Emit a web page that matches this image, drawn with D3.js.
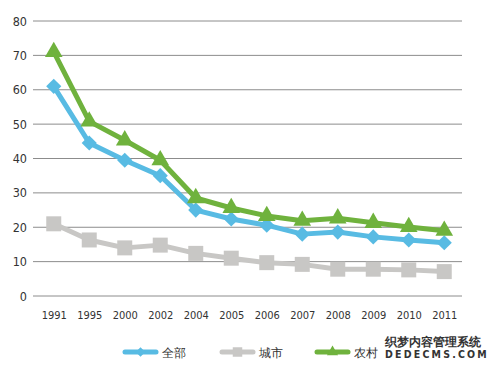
<!DOCTYPE html>
<html>
<head>
<meta charset="utf-8">
<script src="https://cdn.jsdelivr.net/npm/d3@7"></script>
<style>
  body { margin: 0; background: #fff; }
  svg text { font-family: "DejaVu Sans Condensed", "DejaVu Sans", sans-serif; fill: #333; }
</style>
</head>
<body>
<div id="chart"></div>
<script>
var years = ["1991","1995","2000","2002","2004","2005","2006","2007","2008","2009","2010","2011"];
var yTicks = [0, 10, 20, 30, 40, 50, 60, 70, 80];
var seriesNames = ["全部", "城市", "农村"];
var allValues = [61, 44.5, 39.5, 35, 25, 22.4, 20.6, 18, 18.6, 17.2, 16.3, 15.5];
var cityValues = [21, 16.3, 14, 14.8, 12.4, 11, 9.7, 9.2, 7.8, 7.8, 7.6, 7.1];
var ruralValues = [71, 50.8, 45.3, 39.5, 28.5, 25.6, 23.3, 21.9, 22.6, 21.3, 20.1, 19];

var svgWidth = 494, svgHeight = 369;
var plotLeft = 33, plotRight = 462, plotTop = 21, plotBottom = 296;

var svg = d3.select("#chart").append("svg")
  .attr("width", svgWidth)
  .attr("height", svgHeight);

var x = d3.scalePoint().domain(years).range([36, plotRight]).padding(0.5);
var y = d3.scaleLinear().domain([0, 80]).range([plotBottom, plotTop]);

// grid lines
svg.append("g").selectAll("line")
  .data(yTicks)
  .enter().append("line")
  .attr("x1", plotLeft).attr("x2", plotRight)
  .attr("y1", function(d){ return y(d); })
  .attr("y2", function(d){ return y(d); })
  .attr("stroke", "#8c8c8c")
  .attr("stroke-width", 1);

// y axis labels
var yAxis = d3.axisLeft(y).tickValues(yTicks).tickSize(0).tickPadding(6);
var ya = svg.append("g").attr("transform", "translate(" + plotLeft + ",0)").call(yAxis);
ya.select(".domain").remove();
ya.selectAll("text").attr("font-size", 12.5).attr("font-family", "DejaVu Sans Condensed");

// x axis labels
var xAxis = d3.axisBottom(x).tickSize(0).tickPadding(15);
var xa = svg.append("g").attr("transform", "translate(0," + plotBottom + ")").call(xAxis);
xa.select(".domain").remove();
xa.selectAll("text").attr("font-size", 11).attr("font-family", "DejaVu Sans Condensed");

// diamond = square turned 45 degrees
var series = [
  { name: seriesNames[0], values: allValues, color: "#58bbe3", shape: d3.symbolSquare, size: 115, rot: 45 },
  { name: seriesNames[1], values: cityValues, color: "#c8c7c5", shape: d3.symbolSquare, size: 225, rot: 0 },
  { name: seriesNames[2], values: ruralValues, color: "#6fb23d", shape: d3.symbolTriangle, size: 135, rot: 0 }
];
var drawOrder = [series[1], series[0], series[2]];

var line = d3.line()
  .x(function(d, i){ return x(years[i]); })
  .y(function(d){ return y(d); });

drawOrder.forEach(function(s){
  svg.append("path")
    .datum(s.values)
    .attr("d", line)
    .attr("fill", "none")
    .attr("stroke", s.color)
    .attr("stroke-width", 5)
    .attr("stroke-linejoin", "round");
  svg.append("g").selectAll("path")
    .data(s.values)
    .enter().append("path")
    .attr("d", d3.symbol().type(s.shape).size(s.size))
    .attr("transform", function(d, i){ return "translate(" + x(years[i]) + "," + y(d) + ") rotate(" + s.rot + ")"; })
    .attr("fill", s.color);
});

// legend
var legendX = [123, 220, 315];
series.forEach(function(s, k){
  var g = svg.append("g").attr("transform", "translate(" + legendX[k] + ",352)");
  g.append("line")
    .attr("x1", 2).attr("x2", 33)
    .attr("stroke", s.color).attr("stroke-width", 5).attr("stroke-linecap", "round");
  g.append("path")
    .attr("d", d3.symbol().type(s.shape).size(s.size * 0.4))
    .attr("transform", "translate(17.5,0) rotate(" + s.rot + ")")
    .attr("fill", s.color);
  g.append("text")
    .attr("x", 39).attr("y", 4.5)
    .attr("font-size", 12)
    .attr("font-family", "Noto Sans CJK SC")
    .text(s.name);
});

// watermark
var wm = svg.append("g").attr("transform", "translate(385,0)");
wm.append("text").attr("x", 0).attr("y", 346)
  .attr("font-size", 12).attr("font-family", "Noto Sans CJK SC").attr("font-weight", "bold")
  .attr("fill", "#222").attr("stroke", "#fff").attr("stroke-width", 2).attr("paint-order", "stroke")
  .text("织梦内容管理系统");
wm.append("text").attr("x", 0).attr("y", 358)
  .attr("font-size", 10.5).attr("font-family", "DejaVu Sans Mono").attr("font-weight", "bold")
  .attr("letter-spacing", 2.2)
  .attr("fill", "#222").attr("stroke", "#fff").attr("stroke-width", 2).attr("paint-order", "stroke")
  .text("DEDECMS.COM");
</script>
</body>
</html>
